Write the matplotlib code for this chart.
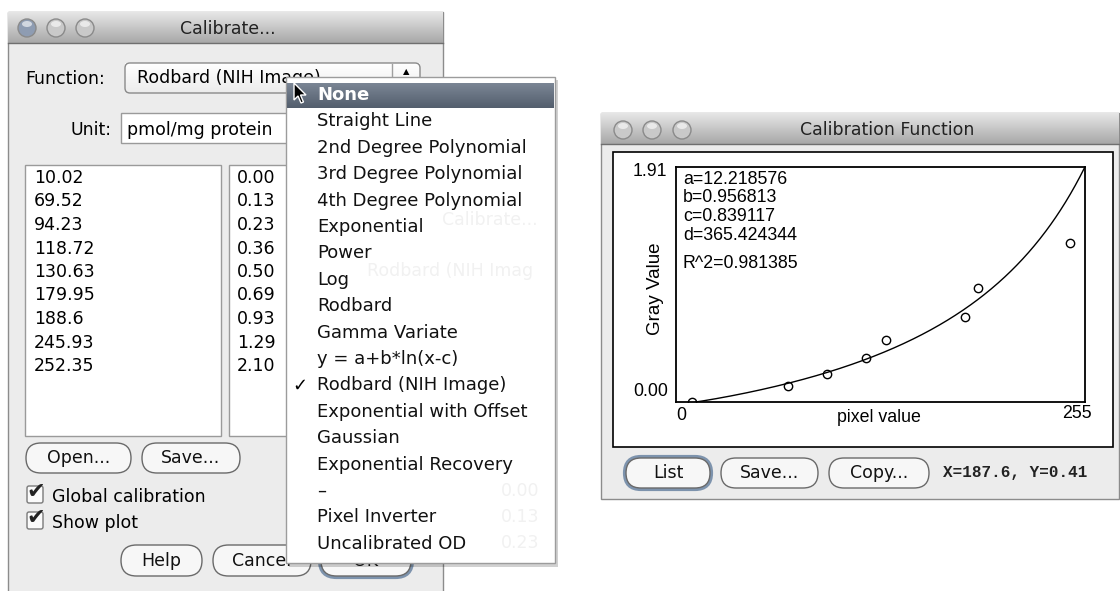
import numpy as np
import matplotlib
matplotlib.use("Agg")
import matplotlib.pyplot as plt
import matplotlib.colors as mcolors
from matplotlib.patches import FancyBboxPatch, Rectangle, Circle, Ellipse, Polygon

# calibration data (standards) as listed in the dialog
pixel_values = [10.02, 69.52, 94.23, 118.72, 130.63, 179.95, 188.6, 245.93, 252.35]
gray_values = [0.00, 0.13, 0.23, 0.36, 0.50, 0.69, 0.93, 1.29, 2.10]
pixel_labels = ["10.02", "69.52", "94.23", "118.72", "130.63", "179.95", "188.6", "245.93", "252.35"]
gray_labels = ["0.00", "0.13", "0.23", "0.36", "0.50", "0.69", "0.93", "1.29", "2.10"]

# fitted Rodbard (NIH Image) parameters shown in the plot
fit_a = 12.218576
fit_b = 0.956813
fit_c = 0.839117
fit_d = 365.424344
fit_r2 = 0.981385
x_max = 255
y_max = 1.91

menu_items = ["None", "Straight Line", "2nd Degree Polynomial", "3rd Degree Polynomial",
              "4th Degree Polynomial", "Exponential", "Power", "Log", "Rodbard",
              "Gamma Variate", "y = a+b*ln(x-c)", "Rodbard (NIH Image)",
              "Exponential with Offset", "Gaussian", "Exponential Recovery", "–",
              "Pixel Inverter", "Uncalibrated OD"]
selected = "Rodbard (NIH Image)"

UI = "DejaVu Sans"
FS = 12.5
MFS = 13

fig = plt.figure(figsize=(11.2, 5.91), dpi=100)
fig.patch.set_facecolor("white")
ui = fig.add_axes([0, 0, 1, 1])
ui.axis("off")


def vgrad(x0, x1, y0, y1, top, bot, z):
    t = np.linspace(0, 1, 64)[:, None, None]
    img = np.array(mcolors.to_rgb(top)) * (1 - t) + np.array(mcolors.to_rgb(bot)) * t
    ui.imshow(img, extent=(x0, x1, y1, y0), aspect="auto", zorder=z, interpolation="bilinear")


def rbox(x0, y0, x1, y1, r, fc, ec, lw=1.0, z=2):
    ui.add_patch(FancyBboxPatch((x0, y0), x1 - x0, y1 - y0,
                                boxstyle=f"round,pad=0,rounding_size={r}",
                                fc=fc, ec=ec, lw=lw, zorder=z))


def button(x0, y0, x1, y1, label, z=3, default=False):
    r = (y1 - y0) / 2
    if default:
        rbox(x0 - 1, y0 - 1, x1 + 1, y1 + 1, r + 1, "none", "#7d93ad", lw=3, z=z)
    rbox(x0, y0, x1, y1, r, "#f7f7f7", "#6a6a6a", lw=1.0, z=z)
    ui.text((x0 + x1) / 2, (y0 + y1) / 2, label, ha="center", va="center",
            fontsize=FS, family=UI, color="#111111", zorder=z + 0.1)


def lights(x, y, first_blue):
    for i, cx in enumerate(x):
        fc = "#8e9cb2" if (first_blue and i == 0) else "#c9c9c9"
        ui.add_patch(Circle((cx, y), 9, fc=fc, ec="#8a8a8a", lw=1, zorder=3))
        ui.add_patch(Ellipse((cx, y - 4), 10, 6, fc="white", ec="none", alpha=0.6, zorder=3.1))


def window(x0, y0, x1, y1, title, tx):
    ui.add_patch(Rectangle((x0, y0), x1 - x0, y1 - y0, fc="#ececec", ec="#8c8c8c", lw=1, zorder=1))
    vgrad(x0, x1, y0, y0 + 31, "#e6e6e6", "#a8a8a8", 1.5)
    ui.plot([x0, x1], [y0 + 31, y0 + 31], color="#6f6f6f", lw=1, zorder=1.6)
    ui.text(tx, y0 + 17, title, ha="center", va="center", fontsize=FS, family=UI,
            color="#222222", zorder=2)


# ---------- left dialog ----------
window(8, 12, 443, 600, "Calibrate...", 228)
lights([27, 56, 85], 28, True)

ui.text(25, 79, "Function:", ha="left", va="center", fontsize=FS, family=UI, zorder=2)
vgrad(125, 420, 63, 93, "#ffffff", "#ececec", 2)
rbox(125, 63, 420, 93, 5, "none", "#8a8a8a", z=2.1)
ui.plot([392, 392], [64, 92], color="#a0a0a0", lw=1, zorder=2.2)
ui.text(406, 72, "▲", ha="center", va="center", fontsize=6, family=UI, zorder=2.2)
ui.text(137, 78, selected, ha="left", va="center", fontsize=FS, family=UI, zorder=2.2)

ui.text(111, 130, "Unit:", ha="right", va="center", fontsize=FS, family=UI, zorder=2)
ui.add_patch(Rectangle((121, 113), 297, 30, fc="white", ec="#9a9a9a", lw=1, zorder=2))
ui.text(127, 130, "pmol/mg protein", ha="left", va="center", fontsize=FS, family=UI, zorder=2.1)

ui.add_patch(Rectangle((25, 165), 196, 271, fc="white", ec="#9a9a9a", lw=1, zorder=2))
ui.add_patch(Rectangle((229, 165), 160, 271, fc="white", ec="#9a9a9a", lw=1, zorder=2))
for i, (p, g) in enumerate(zip(pixel_labels, gray_labels)):
    yy = 178 + i * 23.5
    ui.text(34, yy, p, ha="left", va="center", fontsize=FS, family=UI, zorder=2.1)
    ui.text(237, yy, g, ha="left", va="center", fontsize=FS, family=UI, zorder=2.1)

button(26, 443, 131, 473, "Open...")
button(142, 443, 240, 473, "Save...")

for yy, lab in [(495, "Global calibration"), (521, "Show plot")]:
    rbox(27, yy - 9, 43, yy + 8, 2, "#fafafa", "#7a7a7a", z=2)
    ui.text(36, yy - 3, "✔", ha="center", va="center", fontsize=16, family=UI, color="#222222", zorder=2.2)
    ui.text(52, yy + 2, lab, ha="left", va="center", fontsize=FS, family=UI, zorder=2.1)

button(121, 545, 202, 576, "Help")
button(213, 545, 311, 576, "Cancel")
button(321, 545, 411, 576, "OK", default=True)

# ---------- popup menu ----------
ui.add_patch(Rectangle((289, 80), 269, 487, fc="black", ec="none", alpha=0.18, zorder=4))
ui.add_patch(Rectangle((286, 77), 269, 486, fc="white", ec="#9c9c9c", lw=1, zorder=4.1))
ghosts = [(490, 220, "Calibrate..."), (450, 271, "Rodbard (NIH Imag"),
          (520, 491, "0.00"), (520, 517, "0.13"), (520, 543, "0.23")]
for gx, gy, gt in ghosts:
    ui.text(gx, gy, gt, ha="center", va="center", fontsize=FS, family=UI, color="#f1f1f1", zorder=4.2)
vgrad(287, 554, 83, 108, "#7b8695", "#535e6d", 4.3)
for i, item in enumerate(menu_items):
    yy = 95 + i * 26.4
    bold = i == 0
    ui.text(317, yy, item, ha="left", va="center", fontsize=MFS, family=UI,
            color="white" if bold else "#111111", fontweight="bold" if bold else "normal", zorder=4.5)
    if item == selected:
        ui.text(300, yy, "✓", ha="center", va="center", fontsize=MFS, family=UI, zorder=4.5)

# mouse pointer
arrow = np.array([[0, 0], [0, 17], [4, 13], [7, 20], [9.5, 19], [6.5, 12], [12, 12]]) + [294, 83]
ui.add_patch(Polygon(arrow, closed=True, fc="black", ec="white", lw=1, zorder=5))

# ---------- right plot window ----------
window(601, 113, 1119, 499, "Calibration Function", 887)
lights([623, 652, 682], 130, False)
ui.add_patch(Rectangle((613, 152), 500, 295, fc="white", ec="black", lw=1.2, zorder=2))

button(626, 458, 710, 488, "List", default=True)
button(721, 458, 818, 488, "Save...")
button(829, 458, 929, 488, "Copy...")
ui.text(943, 473, "X=187.6, Y=0.41", ha="left", va="center", fontsize=11.5,
        family="Liberation Mono", fontweight="bold", color="#222222", zorder=2)

ui.set_xlim(0, 1120)
ui.set_ylim(591, 0)

ax = fig.add_axes([676 / 1120, 1 - 402 / 591, 409 / 1120, 235 / 591])
ax.set_xlim(0, x_max)
ax.set_ylim(0, y_max)
ax.set_xticks([])
ax.set_yticks([])
for s in ax.spines.values():
    s.set_linewidth(1.3)

xs = np.linspace(fit_a, x_max, 400)
ys = fit_c * ((xs - fit_a) / (fit_d - xs)) ** (1 / fit_b)
ax.plot(xs, ys, color="black", lw=1)
ax.plot(pixel_values, gray_values, "o", mfc="none", mec="black", ms=6, mew=1)

PF = "Liberation Sans"
PFS = 12.8
params = [f"a={fit_a:.6f}", f"b={fit_b:.6f}", f"c={fit_c:.6f}", f"d={fit_d:.6f}"]
for i, t in enumerate(params):
    ax.text(7 / 409, 1 - (12 + i * 18.7) / 235, t, transform=ax.transAxes, ha="left", va="center",
            fontsize=PFS, family=PF)
ax.text(7 / 409, 1 - 96 / 235, f"R^2={fit_r2:.6f}", transform=ax.transAxes, ha="left",
        va="center", fontsize=PFS, family=PF)

ax.text(-9 / 409, 1 - 5 / 235, f"{y_max:.2f}", transform=ax.transAxes, ha="right", va="center",
        fontsize=PFS, family=PF)
ax.text(-8 / 409, 11 / 235, "0.00", transform=ax.transAxes, ha="right", va="center",
        fontsize=PFS, family=PF)
ax.text(5 / 409, -13 / 235, "0", transform=ax.transAxes, ha="center", va="center",
        fontsize=PFS, family=PF)
ax.text(1 + 7 / 409, -12 / 235, str(x_max), transform=ax.transAxes, ha="right", va="center",
        fontsize=PFS, family=PF)
ax.text(0.497, -16 / 235, "pixel value", transform=ax.transAxes, ha="center", va="center",
        fontsize=PFS, family=PF)
ax.text(-21 / 409, 0.48, "Gray Value", transform=ax.transAxes, ha="center", va="center",
        rotation=90, fontsize=13.5, family=PF)

fig.savefig("out.png", dpi=100)
